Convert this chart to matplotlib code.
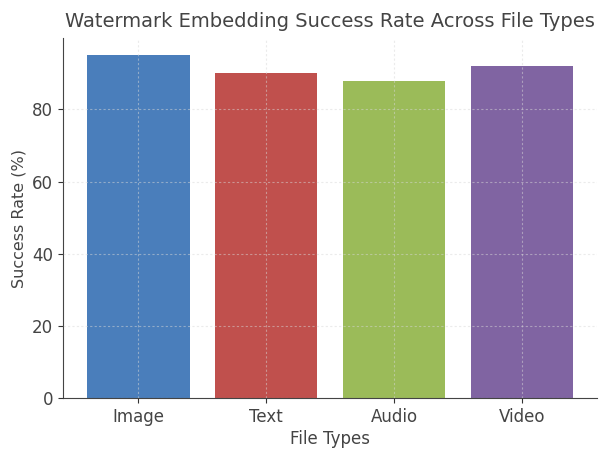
import matplotlib
matplotlib.use("Agg")
import matplotlib.pyplot as plt

file_types = ["Image", "Text", "Audio", "Video"]
success_rates = [95, 90, 88, 92]
colors = ["#4a7ebb", "#c0504d", "#9bbb59", "#8064a2"]

fig = plt.figure(figsize=(6.03, 4.49), dpi=100)
ax = fig.add_axes([0.1045, 0.1136, 0.886, 0.8014])
ax.bar(file_types, success_rates, color=colors, width=0.8)
ax.set_axisbelow(False)
ax.grid(True, color="#d8d8d8", alpha=0.5, linestyle=(0, (2, 2)), linewidth=0.8)
for s in ["top", "right"]:
    ax.spines[s].set_visible(False)
for s in ["left", "bottom"]:
    ax.spines[s].set_color("#444444")
ax.tick_params(colors="#333333", labelsize=12, labelcolor="#444444")
ax.set_title("Watermark Embedding Success Rate Across File Types", fontsize=14, color="#444444", pad=8)
ax.set_xlabel("File Types", fontsize=12, color="#444444", labelpad=3)
ax.set_ylabel("Success Rate (%)", fontsize=11.5, color="#444444")
fig.savefig("out.png", dpi=100)
